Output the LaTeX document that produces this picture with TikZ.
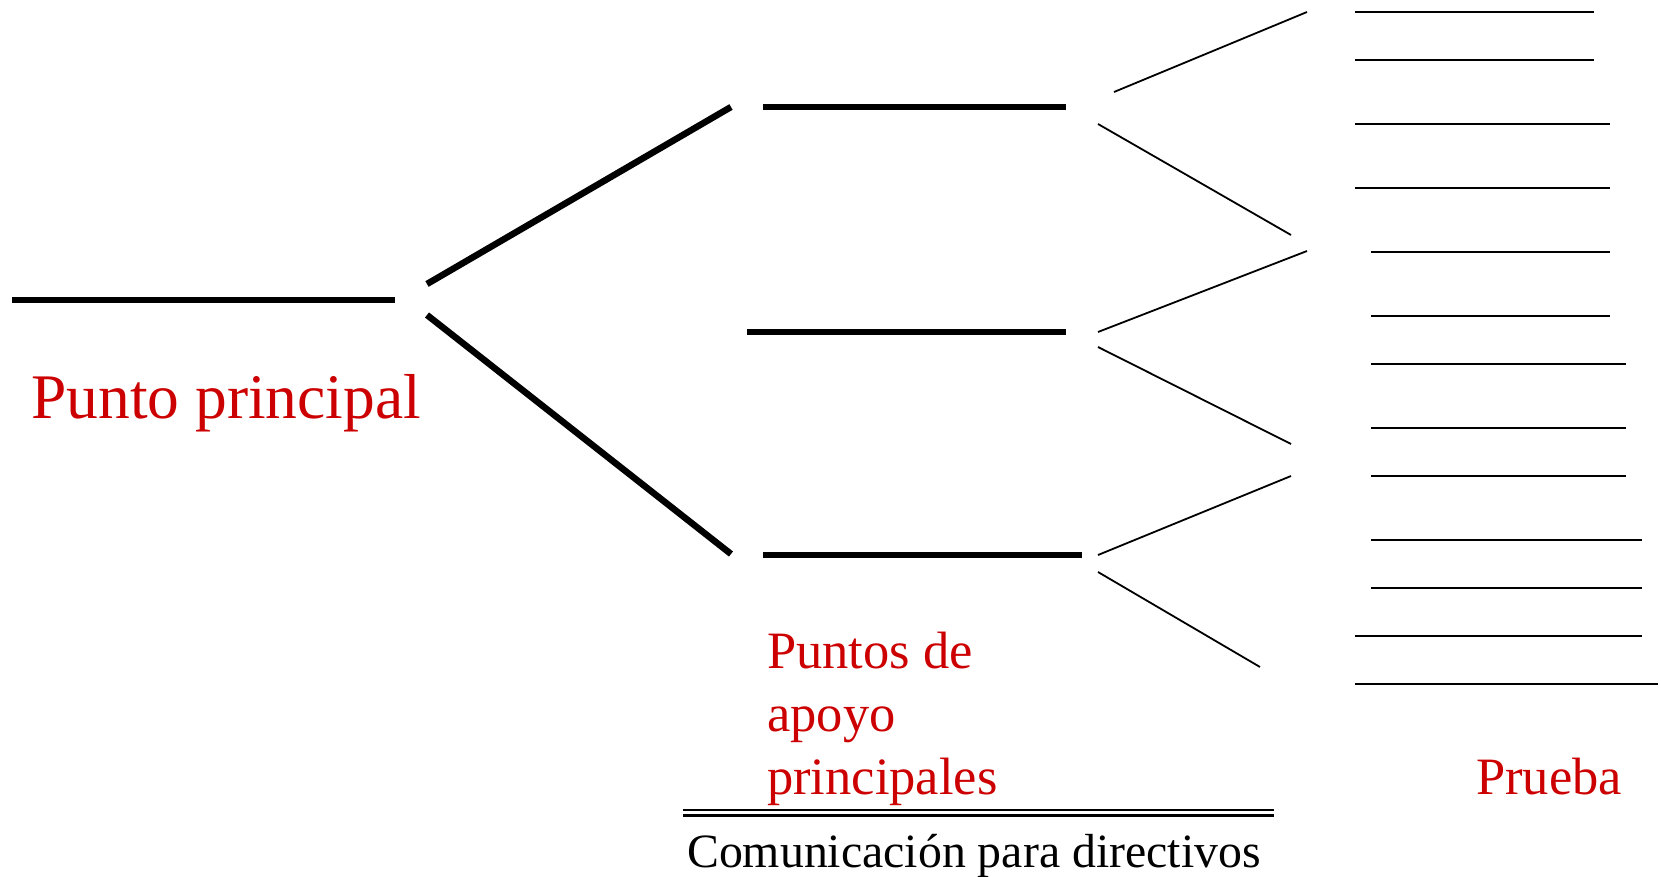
\documentclass[tikz,border=0pt]{standalone}
\usepackage{fontspec}
\setmainfont{Liberation Serif}
\definecolor{tred}{HTML}{CC0000}
\begin{document}
\begin{tikzpicture}[x=1pt,y=-1pt,
  heavy/.style={line width=6.5pt},
  lite/.style={line width=1.8pt},
  rulel/.style={line width=2.4pt},
  dbl/.style={line width=2.4pt},
  lbl/.style={text=tred, inner sep=0pt, anchor=base west}]
\useasboundingbox (0,0) rectangle (1661,877);
% main point
\coordinate (m0) at (12,300); \coordinate (m1) at (395,300);
\draw[heavy] (m0) -- (m1);
% main branches
\coordinate (bu0) at (427,284); \coordinate (bu1) at (731,107);
\coordinate (bl0) at (427,315); \coordinate (bl1) at (731,554);
\draw[heavy] (bu0) -- (bu1);
\draw[heavy] (bl0) -- (bl1);
% support bars
\coordinate (a0) at (763,107); \coordinate (a1) at (1066,107);
\coordinate (b0) at (747,332); \coordinate (b1) at (1066,332);
\coordinate (c0) at (763,555); \coordinate (c1) at (1082,555);
\draw[heavy] (a0) -- (a1);
\draw[heavy] (b0) -- (b1);
\draw[heavy] (c0) -- (c1);
% thin branches
\coordinate (t1s) at (1114,92);  \coordinate (t1e) at (1307,12);
\coordinate (t2s) at (1098,124); \coordinate (t2e) at (1291,235);
\coordinate (t3s) at (1098,332); \coordinate (t3e) at (1307,251);
\coordinate (t4s) at (1098,347); \coordinate (t4e) at (1291,444);
\coordinate (t5s) at (1098,555); \coordinate (t5e) at (1291,476);
\coordinate (t6s) at (1098,572); \coordinate (t6e) at (1260,667);
\foreach \i in {1,...,6} \draw[lite] (t\i s) -- (t\i e);
% evidence lines
\foreach \y/\xa/\xb [count=\i] in {12/1355/1594, 60/1355/1594, 124/1355/1610, 188/1355/1610,
  252/1371/1610, 316/1371/1610, 364/1371/1626, 428/1371/1626, 476/1371/1626,
  540/1371/1642, 588/1371/1642, 636/1355/1642, 684/1355/1658}{
  \coordinate (r\i a) at (\xa,\y); \coordinate (r\i b) at (\xb,\y);
  \draw[rulel] (r\i a) -- (r\i b);
}
% double rule
\coordinate (d0) at (683,810); \coordinate (d1) at (1274,810);
\coordinate (e0) at (683,815.5); \coordinate (e1) at (1274,815.5);
\draw[dbl] (d0) -- (d1);
\draw[dbl] (e0) -- (e1);
% labels
\node[lbl, font=\fontsize{63.5}{75}\selectfont] (pp) at (31,418) {Punto principal};
\node[lbl, align=left, font=\fontsize{52.5}{63}\selectfont] (pa) at (767,794) {Puntos de\\apoyo\\principales};
\node[lbl, font=\fontsize{52.5}{63}\selectfont] (pr) at (1476,794) {Prueba};
\node[inner sep=0pt, anchor=base west, font=\fontsize{47.8}{57}\selectfont] (cd) at (687,867) {Comunicación para directivos};
\end{tikzpicture}
\end{document}
